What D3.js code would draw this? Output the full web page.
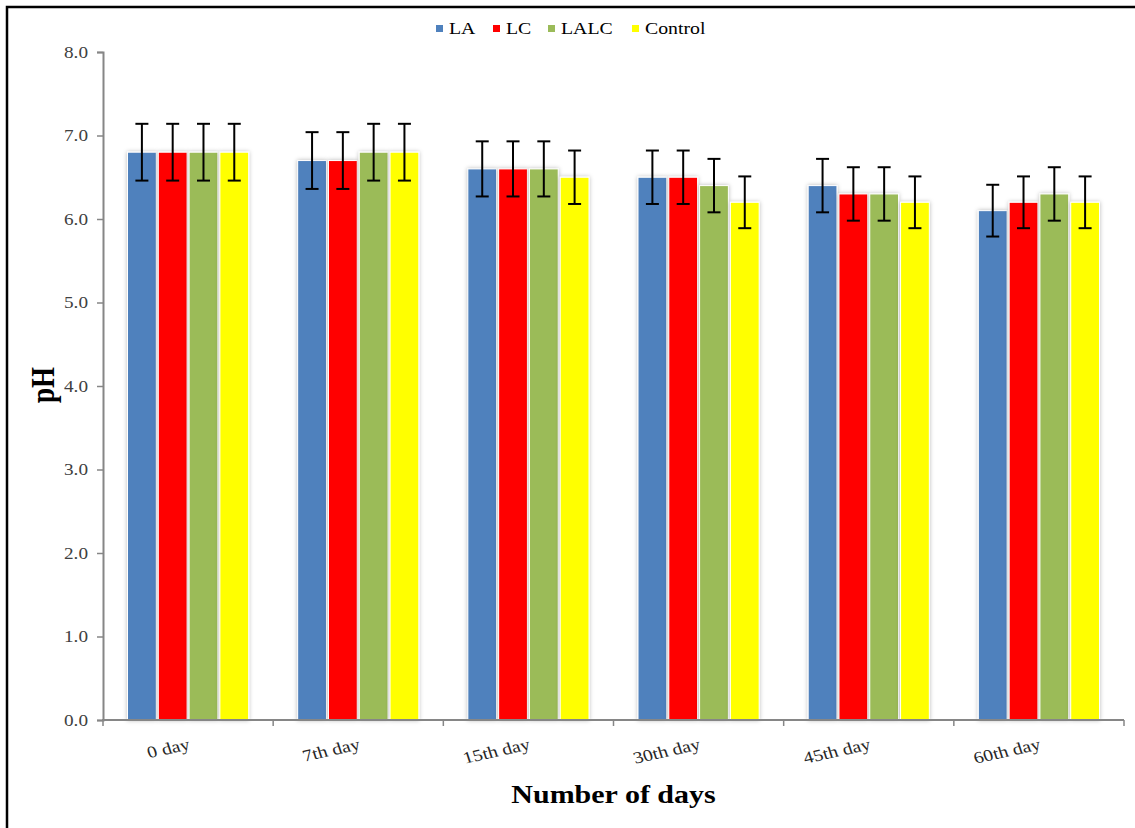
<!DOCTYPE html>
<html>
<head>
<meta charset="utf-8">
<script src="https://cdn.jsdelivr.net/npm/d3@7"></script>
<style>
  body { margin: 0; background: #fff; }
</style>
</head>
<body>
<svg id="chart" width="1135" height="828" font-family="Liberation Serif, Times New Roman, serif"></svg>
<script>
"use strict";

// data
const days = ["0 day", "7th day", "15th day", "30th day", "45th day", "60th day"];
const seriesNames = ["LA", "LC", "LALC", "Control"];
const LA      = [6.8, 6.7, 6.6, 6.5, 6.4, 6.1];
const LC      = [6.8, 6.7, 6.6, 6.5, 6.3, 6.2];
const LALC    = [6.8, 6.8, 6.6, 6.4, 6.3, 6.3];
const Control = [6.8, 6.8, 6.5, 6.2, 6.2, 6.2];
const errLA      = [0.34, 0.34, 0.33, 0.32, 0.32, 0.31];
const errLC      = [0.34, 0.34, 0.33, 0.32, 0.32, 0.31];
const errLALC    = [0.34, 0.34, 0.33, 0.32, 0.32, 0.32];
const errControl = [0.34, 0.34, 0.32, 0.31, 0.31, 0.31];
const yTicks = [0, 1, 2, 3, 4, 5, 6, 7, 8];

const values = [LA, LC, LALC, Control];
const errors = [errLA, errLC, errLALC, errControl];
const colors = ["#4F81BD", "#FF0000", "#9BBB59", "#FFFF00"];

// layout
const plot = { left: 103, right: 1124, top: 52, bottom: 720 };
const FONT = "Liberation Serif, Times New Roman, serif";
const STRETCH = 1.2;   // reference text is a little wide

let svg = d3.select("#chart");

// frame (left + top only)
svg.append("path")
.attr("d", "M7,828 L7,7 L1135,7")
.attr("fill", "none")
.attr("stroke", "#000")
.attr("stroke-width", 2.5);

// shadow filter
let defs = svg.append("defs");
let f = defs.append("filter").attr("id", "shadow")
.attr("x", "-30%").attr("y", "-10%").attr("width", "160%").attr("height", "120%");
f.append("feDropShadow")
.attr("dx", 0).attr("dy", 0).attr("stdDeviation", 2.2)
.attr("flood-color", "#000").attr("flood-opacity", 0.28);

// scales
let scaleX = d3.scaleBand()
.domain(days)
.range([plot.left, plot.right])
.padding(0);

let scaleX1 = d3.scaleBand()
.domain(seriesNames)
.range([24.5, scaleX.bandwidth() - 24.5])
.paddingInner(0.065)
.paddingOuter(0);

let scaleY = d3.scaleLinear()
.domain([0, 8])
.range([plot.bottom, plot.top]);

// y axis
let yAxis = svg.append("g")
.attr("class", "y_axis")
.attr("transform", `translate(${plot.left}, 0)`)
.call(d3.axisLeft(scaleY).tickValues(yTicks).tickFormat(d3.format(".1f")).tickSizeOuter(0).tickSize(6));
yAxis.attr("font-family", FONT);
yAxis.select(".domain").attr("stroke", "#868686").attr("stroke-width", 2);
yAxis.selectAll(".tick line").attr("stroke", "#868686").attr("stroke-width", 1.5);
yAxis.selectAll(".tick text")
.attr("x", 0)
.attr("transform", `translate(-15, 0) scale(${STRETCH}, 1)`)
.attr("font-size", 16)
.attr("font-family", FONT)
.attr("fill", "#404040");

// bars
let groups = svg.selectAll("g.bar_groups")
.data(days)
.enter()
.append("g")
.attr("class", "bar_groups")
.attr("transform", d => `translate(${scaleX(d)}, 0)`);

groups.each(function(day, i) {
    let g = d3.select(this);
    seriesNames.forEach((s, k) => {
        let v = values[k][i];
        g.append("rect")
        .attr("x", scaleX1(s))
        .attr("y", scaleY(v))
        .attr("width", scaleX1.bandwidth())
        .attr("height", scaleY(0) - scaleY(v))
        .attr("fill", colors[k])
        .attr("stroke", "#fff")
        .attr("stroke-width", 1)
        .attr("filter", "url(#shadow)");
    });
});

// error bars (drawn on top)
groups.each(function(day, i) {
    let g = d3.select(this);
    seriesNames.forEach((s, k) => {
        let v = values[k][i], e = errors[k][i];
        let cx = scaleX1(s) + scaleX1.bandwidth() / 2;
        let yTop = scaleY(v + e), yBot = scaleY(v - e);
        g.append("line")
        .attr("x1", cx).attr("x2", cx)
        .attr("y1", yTop).attr("y2", yBot)
        .attr("stroke", "#000").attr("stroke-width", 2);
        [yTop, yBot].forEach(yy => {
            g.append("line")
            .attr("x1", cx - 6.5).attr("x2", cx + 6.5)
            .attr("y1", yy).attr("y2", yy)
            .attr("stroke", "#000").attr("stroke-width", 2);
        });
    });
});

// x axis
let xAxis = svg.append("g")
.attr("class", "x_axis")
.attr("transform", `translate(0, ${plot.bottom})`);
xAxis.append("line")
.attr("x1", plot.left - 1).attr("x2", plot.right)
.attr("y1", 0).attr("y2", 0)
.attr("stroke", "#868686").attr("stroke-width", 2);
let tickPos = days.map(d => scaleX(d)).concat([scaleX(days[days.length - 1]) + scaleX.bandwidth()]);
xAxis.selectAll("line.tick")
.data(tickPos)
.enter()
.append("line")
.attr("class", "tick")
.attr("x1", d => d).attr("x2", d => d)
.attr("y1", 0).attr("y2", 6)
.attr("stroke", "#868686").attr("stroke-width", 1.5);

xAxis.selectAll("text")
.data(days)
.enter()
.append("text")
.attr("transform", d => `translate(${scaleX(d) + scaleX.bandwidth() / 2 + 3}, 29) scale(${STRETCH}, 1) rotate(-15)`)
.attr("text-anchor", "end")
.attr("font-size", 16.5)
.attr("font-family", FONT)
.attr("fill", "#262626")
.text(d => d);

// axis titles
svg.append("text")
.attr("transform", `translate(${(plot.left + plot.right) / 2 + 0}, 803) scale(${STRETCH}, 1)`)
.attr("text-anchor", "middle")
.attr("font-size", 25)
.attr("font-family", FONT)
.attr("font-weight", "bold")
.attr("fill", "#000")
.text("Number of days");

svg.append("text")
.attr("transform", "translate(54, 385) scale(1.25, 1) rotate(-90)")
.attr("text-anchor", "middle")
.attr("font-size", 27)
.attr("font-family", FONT)
.attr("font-weight", "bold")
.attr("fill", "#000")
.text("pH");

// legend
const legendX = [436, 493, 548, 632];
let legend = svg.append("g").attr("class", "legend");
seriesNames.forEach((s, k) => {
    legend.append("rect")
    .attr("x", legendX[k]).attr("y", 25)
    .attr("width", 7).attr("height", 7)
    .attr("fill", colors[k]);
    legend.append("text")
    .attr("transform", `translate(${legendX[k] + 13}, 34) scale(${STRETCH}, 1)`)
    .attr("font-size", 16.5)
    .attr("font-family", FONT)
    .attr("fill", "#000")
    .text(s);
});
</script>
</body>
</html>
